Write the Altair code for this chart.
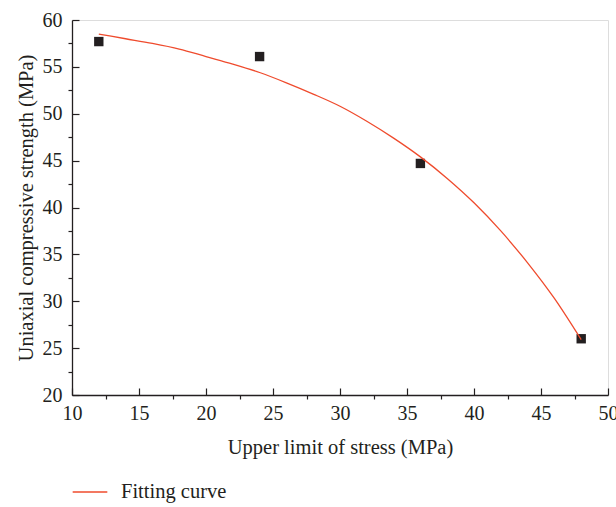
import altair as alt
import pandas as pd

# Measured points
stress_x = [12, 24, 36, 48]
strength_y = [57.7, 56.1, 44.7, 26.0]

# Fitting curve
curve_x = [12, 14, 16, 18, 20, 22, 24, 26, 28, 30, 32, 34, 36, 38, 40, 42, 44, 46, 48]
curve_y = [58.5, 58.0, 57.5, 56.9, 56.1, 55.3, 54.4, 53.3, 52.1, 50.8, 49.2, 47.4,
           45.4, 43.1, 40.5, 37.5, 34.1, 30.3, 25.9]
series_name = ["Fitting curve"]

x_major = [10, 15, 20, 25, 30, 35, 40, 45, 50]
x_minor = [12.5, 17.5, 22.5, 27.5, 32.5, 37.5, 42.5, 47.5]
y_major = [20, 25, 30, 35, 40, 45, 50, 55, 60]
y_minor = [22.5, 27.5, 32.5, 37.5, 42.5, 47.5, 52.5, 57.5]

FONT = "Liberation Serif"
INK = "#231F20"
RED = "#EF4B2D"

pts = pd.DataFrame({"x": stress_x, "y": strength_y})
crv = pd.DataFrame({"x": curve_x, "y": curve_y, "series": series_name * len(curve_x)})

xs = alt.Scale(domain=[10, 50], nice=False, zero=False)
ys = alt.Scale(domain=[20, 60], nice=False, zero=False)

# Layer 1: points + axis lines with outward minor ticks
points = alt.Chart(pts).mark_point(shape="square", filled=True, size=88, color=INK, opacity=1).encode(
    x=alt.X("x:Q", scale=xs, axis=alt.Axis(
        orient="bottom", values=x_minor, labels=False, title=None, grid=False,
        tickSize=4, tickColor=INK, tickWidth=1.2, domain=True, domainColor=INK, domainWidth=1.3)),
    y=alt.Y("y:Q", scale=ys, axis=alt.Axis(
        orient="left", values=y_minor, labels=False, title=None, grid=False,
        tickSize=4, tickColor=INK, tickWidth=1.2, domain=True, domainColor=INK, domainWidth=1.3)),
)

# Layer 2: curve + inward major ticks, labels and titles
curve = alt.Chart(crv).mark_line(strokeWidth=1.3, interpolate="monotone").encode(
    x=alt.X("x:Q", scale=xs, axis=alt.Axis(
        orient="bottom", values=x_major, offset=-7, tickSize=7, tickColor=INK, tickWidth=1.2,
        domain=False, grid=False, labelPadding=8, labelFont=FONT, labelFontSize=20,
        labelColor=INK, labelFlush=False,
        title="Upper limit of stress (MPa)", titleFont=FONT, titleFontSize=20.5,
        titleFontWeight="normal", titleColor=INK, titlePadding=14)),
    y=alt.Y("y:Q", scale=ys, axis=alt.Axis(
        orient="left", values=y_major, offset=-7, tickSize=7, tickColor=INK, tickWidth=1.2,
        domain=False, grid=False, labelPadding=10, labelFont=FONT, labelFontSize=20,
        labelColor=INK, labelFlush=False,
        title="Uniaxial compressive strength (MPa)", titleFont=FONT, titleFontSize=20.5,
        titleFontWeight="normal", titleColor=INK, titlePadding=6)),
    color=alt.Color("series:N", scale=alt.Scale(domain=series_name, range=[RED]),
                    legend=alt.Legend(orient="none", legendX=0, legendY=454, title=None,
                                      symbolType="stroke", symbolSize=1200, symbolStrokeWidth=1.3,
                                      labelFont=FONT, labelFontSize=20.5, labelColor=INK,
                                      labelOffset=13, padding=0)),
)

chart = alt.layer(points, curve).resolve_scale(
    x="independent", y="independent"
).resolve_axis(x="independent", y="independent").properties(
    width=536, height=375,
    autosize=alt.AutoSizeParams(type="none"),
    padding={"left": 72, "top": 20, "right": 8, "bottom": 112},
).configure_view(stroke=None).configure(background="white")

chart.save("out.html", embed_options={"renderer": "svg", "actions": False})
